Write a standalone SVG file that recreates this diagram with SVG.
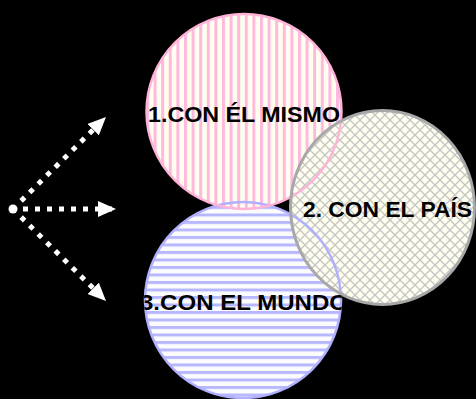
<svg xmlns="http://www.w3.org/2000/svg" width="476" height="399" viewBox="0 0 476 399">
  <style>
    .lbl { font-family: "Liberation Sans", Arial, sans-serif; font-weight: bold; font-size: 22px; fill: #000000; }
    .dots { fill: none; stroke: #FFFFFF; stroke-width: 5; stroke-dasharray: 5 7; }
  </style>
  <defs>
    <pattern id="pinkStripes" x="184" y="0" width="7.6" height="10" patternUnits="userSpaceOnUse">
      <rect width="7.6" height="10" fill="#FFFFF0"/>
      <rect x="0" y="0" width="3" height="10" fill="#FFB8DE"/>
    </pattern>
    <pattern id="blueStripes" x="0" y="333.5" width="10" height="7.5" patternUnits="userSpaceOnUse">
      <rect width="10" height="7.5" fill="#FCFCFF"/>
      <rect x="0" y="0" width="10" height="3" fill="#B8B8FF"/>
    </pattern>
    <pattern id="greyHatch" x="0" y="0" width="10" height="10" patternUnits="userSpaceOnUse">
      <rect width="10" height="10" fill="#FFFFF0"/>
      <path d="M-1,-1 L11,11 M-1,11 L11,-1" stroke="#C4C4C4" stroke-width="1.3" fill="none"/>
    </pattern>
    <clipPath id="blueClip">
      <circle cx="243" cy="300" r="99"/>
    </clipPath>
    <marker id="head" markerUnits="userSpaceOnUse" markerWidth="20" markerHeight="18" refX="18" refY="8" orient="auto" viewBox="0 0 20 18">
      <path d="M0,0 L18,8 L0,16 Z" fill="#FFFFFF"/>
    </marker>
  </defs>
  <rect width="476" height="399" fill="#000000"/>

  <g id="node-mundo">
    <circle cx="243" cy="300" r="98" fill="url(#blueStripes)"/>
  </g>
  <g id="node-mismo">
    <circle cx="244" cy="111.5" r="97.5" fill="url(#pinkStripes)"/>
  </g>
  <g id="node-pais">
    <ellipse cx="382.5" cy="207.5" rx="92" ry="97" fill="url(#greyHatch)"/>
  </g>

  <g id="outlines" fill="none">
    <circle cx="243" cy="300" r="98" stroke="#B0B0FF" stroke-width="2.5"/>
    <circle cx="244" cy="111.5" r="97.5" stroke="#FFB3D9" stroke-width="2.5"/>
    <ellipse cx="382.5" cy="207.5" rx="92" ry="97" stroke="#A8A8A8" stroke-width="3"/>
  </g>

  <g id="labels">
    <text class="lbl" x="148" y="122" textLength="192" lengthAdjust="spacingAndGlyphs">1.CON ÉL MISMO</text>
    <text class="lbl" x="303" y="217" textLength="169" lengthAdjust="spacingAndGlyphs">2. CON EL PAÍS</text>
    <text class="lbl" x="140" y="310" textLength="208" lengthAdjust="spacingAndGlyphs" clip-path="url(#blueClip)">3.CON EL MUNDO</text>
  </g>

  <g id="connectors">
    <circle cx="13" cy="209" r="4.5" fill="#FFFFFF"/>
    <line class="dots" x1="21.1" y1="200.9" x2="106" y2="117" marker-end="url(#head)"/>
    <line class="dots" x1="23" y1="209" x2="116" y2="209" marker-end="url(#head)"/>
    <line class="dots" x1="21.1" y1="217.1" x2="106" y2="301" marker-end="url(#head)"/>
  </g>
</svg>
